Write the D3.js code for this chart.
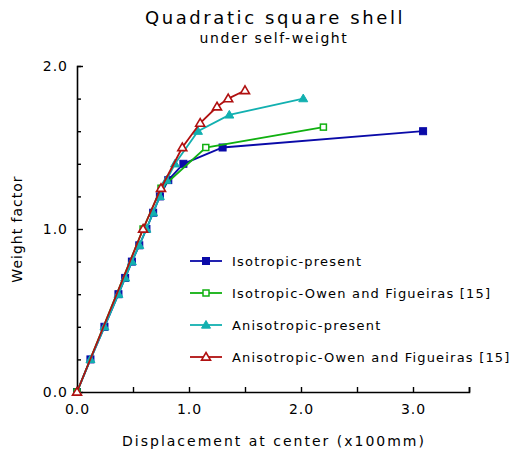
<!DOCTYPE html>
<html>
<head>
<meta charset="utf-8">
<script src="https://cdn.jsdelivr.net/npm/d3@7"></script>
<style>
  body { margin: 0; background: #fff; }
  text { font-family: "DejaVu Sans", sans-serif; fill: #000; }
</style>
</head>
<body>
<svg id="chart" width="510" height="464"></svg>
<script>
// data
const isoPresentX = [0, 0.12, 0.245, 0.37, 0.43, 0.49, 0.556, 0.62, 0.68, 0.74, 0.815, 0.95, 1.30, 3.09];
const isoPresentY = [0, 0.2, 0.4, 0.6, 0.7, 0.8, 0.9, 1.0, 1.1, 1.2, 1.3, 1.4, 1.5, 1.6];
const isoOwenX = [0, 0.59, 0.75, 1.15, 2.2];
const isoOwenY = [0, 1.0, 1.25, 1.5, 1.625];
const anisoPresentX = [0, 0.12, 0.245, 0.37, 0.43, 0.49, 0.556, 0.62, 0.68, 0.74, 0.80, 0.875, 1.08, 1.36, 2.02];
const anisoPresentY = [0, 0.2, 0.4, 0.6, 0.7, 0.8, 0.9, 1.0, 1.1, 1.2, 1.3, 1.4, 1.6, 1.7, 1.8];
const anisoOwenX = [0, 0.59, 0.75, 0.94, 1.10, 1.25, 1.35, 1.50];
const anisoOwenY = [0, 1.0, 1.25, 1.5, 1.65, 1.75, 1.8, 1.85];

const xTicks = [0, 1, 2, 3];
const yTicks = [0, 1, 2];

const series = [
  { name: "Isotropic-present", xs: isoPresentX, ys: isoPresentY, color: "#0a0aa8", marker: "square", fill: true },
  { name: "Isotropic-Owen and Figueiras [15]", xs: isoOwenX, ys: isoOwenY, color: "#10b010", marker: "square", fill: false },
  { name: "Anisotropic-present", xs: anisoPresentX, ys: anisoPresentY, color: "#12b0b0", marker: "triangle", fill: true },
  { name: "Anisotropic-Owen and Figueiras [15]", xs: anisoOwenX, ys: anisoOwenY, color: "#b01010", marker: "triangle", fill: false }
];

const svg = d3.select("#chart");

const x = d3.scaleLinear([0, 3.5], [77, 469]);
const y = d3.scaleLinear([0, 2], [392, 66]);

// title
svg.append("text")
  .attr("x", 275).attr("y", 24)
  .attr("text-anchor", "middle")
  .style("font-size", "18px")
  .style("letter-spacing", "2.6px")
  .text("Quadratic square shell");

svg.append("text")
  .attr("x", 274).attr("y", 43)
  .attr("text-anchor", "middle")
  .style("font-size", "14px")
  .style("letter-spacing", "1.6px")
  .text("under self-weight");

// axes (ticks point inward)
const xAxis = d3.axisBottom(x)
  .tickValues(d3.range(0, 3.51, 0.5))
  .tickSize(-5)
  .tickFormat(d => xTicks.includes(d) ? d3.format(".1f")(d) : "");
const gx = svg.append("g")
  .attr("transform", "translate(0," + y(0) + ")")
  .call(xAxis);
gx.select(".domain").attr("stroke-width", 1.6);
gx.selectAll(".tick line").attr("stroke-width", 1.4);
gx.selectAll(".tick text")
  .attr("y", 12)
  .style("font-size", "14px")
  .style("letter-spacing", "1px")
  .style("font-family", "DejaVu Sans, sans-serif");

const yAxis = d3.axisLeft(y)
  .tickValues(d3.range(0, 2.01, 0.2).map(v => Math.round(v * 10) / 10))
  .tickSize(-4)
  .tickFormat(d => yTicks.includes(d) ? d3.format(".1f")(d) : "");
const gy = svg.append("g")
  .attr("transform", "translate(" + x(0) + ",0)")
  .call(yAxis);
gy.select(".domain").attr("stroke-width", 1.6);
gy.selectAll(".tick line").attr("stroke-width", 1.4);
gy.selectAll(".tick text")
  .attr("x", -9)
  .style("font-size", "14px")
  .style("letter-spacing", "1px")
  .style("font-family", "DejaVu Sans, sans-serif");
gy.selectAll(".tick").filter(d => yTicks.includes(d)).select("line").attr("x2", 6);

// axis titles
svg.append("text")
  .attr("x", 274).attr("y", 446)
  .attr("text-anchor", "middle")
  .style("font-size", "14px")
  .style("letter-spacing", "2px")
  .text("Displacement at center (x100mm)");

svg.append("text")
  .attr("transform", "translate(22,229) rotate(-90)")
  .attr("text-anchor", "middle")
  .style("font-size", "14px")
  .style("letter-spacing", "1px")
  .text("Weight factor");

// markers
function drawMarker(g, s, cx, cy) {
  if (s.marker === "square") {
    const sz = s.fill ? 7 : 6;
    g.append("rect")
      .attr("x", cx - sz / 2).attr("y", cy - sz / 2)
      .attr("width", sz).attr("height", sz)
      .attr("fill", s.fill ? s.color : "#fff")
      .attr("stroke", s.color).attr("stroke-width", s.fill ? 1 : 1.5);
  } else {
    const r = 4.5;
    g.append("path")
      .attr("d", `M${cx},${cy - r}L${cx + r},${cy + r * 0.7}L${cx - r},${cy + r * 0.7}Z`)
      .attr("fill", s.fill ? s.color : "#fff")
      .attr("stroke", s.color).attr("stroke-width", s.fill ? 1 : 1.6);
  }
}

const line = d3.line().x(d => x(d[0])).y(d => y(d[1]));

series.forEach(s => {
  const pts = s.xs.map((v, i) => [v, s.ys[i]]);
  const g = svg.append("g");
  g.append("path")
    .datum(pts)
    .attr("d", line)
    .attr("fill", "none")
    .attr("stroke", s.color)
    .attr("stroke-width", 1.8);
  pts.forEach(p => drawMarker(g, s, x(p[0]), y(p[1])));
});

// legend
const legend = svg.append("g");
series.forEach((s, i) => {
  const ly = 261 + i * 32;
  legend.append("line")
    .attr("x1", 190).attr("x2", 222)
    .attr("y1", ly).attr("y2", ly)
    .attr("stroke", s.color).attr("stroke-width", 1.8);
  drawMarker(legend, s, 206, ly);
  legend.append("text")
    .attr("x", 232).attr("y", ly + 5)
    .style("font-size", "13px")
    .style("letter-spacing", "1.2px")
    .text(s.name);
});
</script>
</body>
</html>
